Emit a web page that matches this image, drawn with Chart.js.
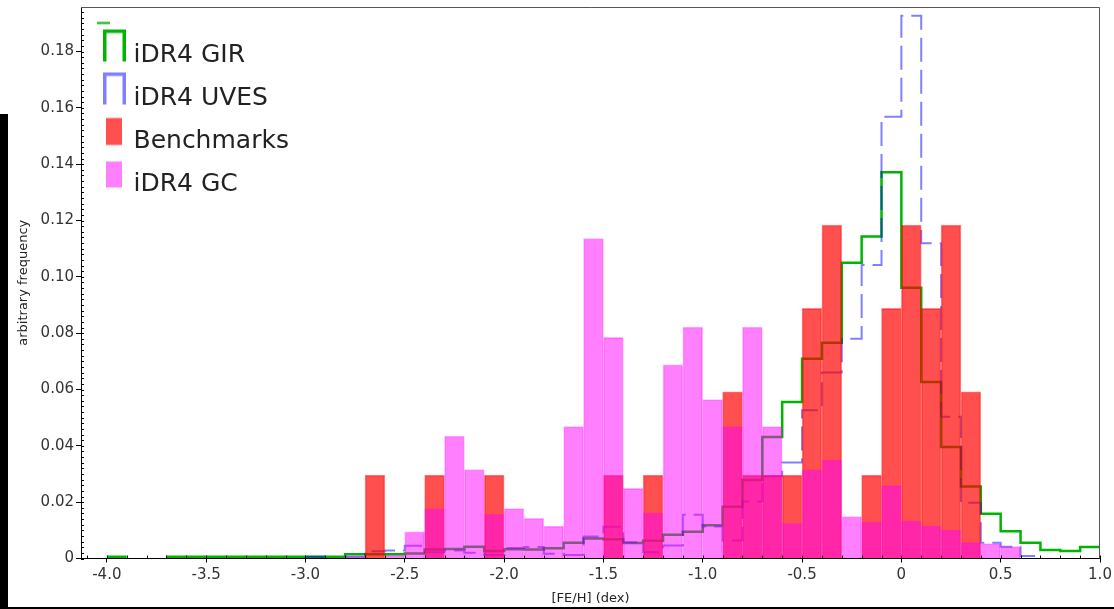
<!DOCTYPE html>
<html>
<head>
<meta charset="utf-8">
<script src="https://cdn.jsdelivr.net/npm/chart.js@4.4.0/dist/chart.umd.min.js"></script>
<style>
  body { margin: 0; background: #fff; }
  #wrap { position: relative; width: 1114px; height: 609px; }
  .edge { position: absolute; background: #000; }
</style>
</head>
<body>
<div id="wrap">
  <canvas id="chartFeH" width="1114" height="609"></canvas>
  <div class="edge" style="left:0;top:114px;width:8px;height:495px"></div>
  <div class="edge" style="left:0;top:607px;width:1114px;height:2px"></div>
</div>
<script>
// left edges of the 0.1 dex bins
const binLeft = [-4.0, -3.9, -3.8, -3.7, -3.6, -3.5, -3.4, -3.3, -3.2, -3.1,
  -3.0, -2.9, -2.8, -2.7, -2.6, -2.5, -2.4, -2.3, -2.2, -2.1,
  -2.0, -1.9, -1.8, -1.7, -1.6, -1.5, -1.4, -1.3, -1.2, -1.1,
  -1.0, -0.9, -0.8, -0.7, -0.6, -0.5, -0.4, -0.3, -0.2, -0.1,
  0.0, 0.1, 0.2, 0.3, 0.4, 0.5, 0.6, 0.7, 0.8, 0.9];
const binWidth = 0.1;

const seriesNames = ["iDR4 GIR", "iDR4 UVES", "Benchmarks", "iDR4 GC"];

const girFreq = [0.0006, null, null, 0.0006, 0.0006, 0.0006, 0.0006, 0.0006, 0.0006, 0.0006,
  0.0006, 0.0006, 0.0015, 0.0015, 0.0015, 0.0018, 0.0032, 0.0034, 0.0042, 0.0027,
  0.0033, 0.0032, 0.0036, 0.0056, 0.0071, 0.0068, 0.0055, 0.0063, 0.0084, 0.0095,
  0.0118, 0.0184, 0.0279, 0.0431, 0.0556, 0.0709, 0.0766, 0.1050, 0.1143, 0.1371,
  0.0961, 0.0627, 0.0396, 0.0256, 0.0159, 0.0097, 0.0056, 0.0030, 0.0027, 0.0041];

const uvesFreq = [null, null, null, null, null, null, null, null, null, null,
  0.0006, null, 0.0006, 0.0026, 0.0028, 0.0045, 0.0022, 0.0028, 0.0020, 0.0012,
  0.0037, 0.0041, 0.0017, 0.0012, 0.0078, 0.0113, 0.0058, 0.0022, 0.0046, 0.0155,
  0.0114, 0.0064, 0.0202, 0.0292, 0.0341, 0.0526, 0.0660, 0.0780, 0.1042, 0.1568,
  0.1927, 0.1119, 0.0503, 0.0198, 0.0056, 0.0042, 0.0009, null, null, null];

const benchFreq = [null, null, null, null, null, null, null, null, null, null,
  null, null, null, 0.0296, null, null, 0.0296, null, null, 0.0296,
  null, null, null, null, null, 0.0296, null, 0.0296, null, null,
  null, 0.0592, 0.0296, 0.0296, 0.0296, 0.0888, 0.1184, null, 0.0296, 0.0888,
  0.1184, 0.0888, 0.1184, 0.0592, null, null, null, null, null, null];

const gcFreq = [null, null, null, null, null, null, null, null, null, null,
  null, null, 0.0008, null, 0.0012, 0.0095, 0.0176, 0.0435, 0.0316, 0.0158,
  0.0177, 0.0143, 0.0115, 0.0468, 0.1136, 0.0785, 0.0249, 0.0162, 0.0688, 0.0822,
  0.0564, 0.0468, 0.0822, 0.0468, 0.0125, 0.0316, 0.0350, 0.0149, 0.0130, 0.0259,
  0.0134, 0.0116, 0.0101, 0.0057, 0.0053, 0.0042, null, null, null, null];

const xTicks = [-4.0, -3.5, -3.0, -2.5, -2.0, -1.5, -1.0, -0.5, 0, 0.5, 1.0];
const yTicks = [0, 0.02, 0.04, 0.06, 0.08, 0.10, 0.12, 0.14, 0.16, 0.18];

const FONT = "DejaVu Sans";
const GREEN = "#00b400";
const BLUE = "rgba(0, 0, 255, 0.5)";
const RED = "rgba(255, 0, 0, 0.69)";
const PINK = "rgba(255, 0, 255, 0.5)";

Chart.defaults.font.family = FONT;

// histogram outline: flat top over each bin, gaps where a bin is empty
const stepPoints = (vals) => {
  const pts = [];
  vals.forEach((v, i) => {
    if (v === null) {
      pts.push({ x: binLeft[i] + binWidth / 2, y: null });
    } else {
      pts.push({ x: binLeft[i], y: v }, { x: binLeft[i] + binWidth, y: v });
    }
  });
  return pts;
};
const barPoints = (vals) => vals.map((v, i) => ({ x: binLeft[i] + binWidth / 2, y: v }));

// legend symbols
const makeIcon = (paint) => {
  const c = document.createElement("canvas");
  c.width = 44;
  c.height = 72;
  const g = c.getContext("2d");
  g.translate(22, 36);
  paint(g);
  return c;
};
const capShape = (g, color) => {
  g.strokeStyle = color;
  g.lineWidth = 3.5;
  g.lineJoin = "miter";
  g.beginPath();
  g.moveTo(-5.25, 6);
  g.lineTo(-5.25, -24.25);
  g.lineTo(14.25, -24.25);
  g.lineTo(14.25, 6);
  g.stroke();
};
const legendIcons = [
  makeIcon((g) => {
    capShape(g, GREEN);
    g.fillStyle = GREEN;
    g.fillRect(-13, -33.5, 13, 2);
  }),
  makeIcon((g) => capShape(g, BLUE)),
  makeIcon((g) => {
    g.fillStyle = RED;
    g.fillRect(-4, -23.5, 16, 27);
  }),
  makeIcon((g) => {
    g.fillStyle = PINK;
    g.fillRect(-4, -23, 16, 26);
  }),
];

// minor ticks, axis lines over the bars, grey frame on top/right
const axisDecor = {
  id: "axisDecor",
  afterDatasetsDraw(chart) {
    const { ctx, chartArea: a, scales } = chart;
    const x = scales.x;
    const y = scales.y;
    ctx.save();
    ctx.strokeStyle = "#000";
    ctx.lineWidth = 1;
    ctx.beginPath();
    for (let k = -41; k <= 10; k++) {
      const px = Math.round(x.getPixelForValue(k / 10)) + 0.5;
      ctx.moveTo(px, a.bottom);
      ctx.lineTo(px, a.bottom - 3);
    }
    for (let k = 0; k * 0.002 <= y.max; k++) {
      const py = Math.round(y.getPixelForValue(k * 0.002)) + 0.5;
      ctx.moveTo(a.left, py);
      ctx.lineTo(a.left + 3, py);
    }
    ctx.moveTo(a.left, a.bottom);
    ctx.lineTo(a.right, a.bottom);
    ctx.stroke();
    ctx.strokeStyle = "#555";
    ctx.beginPath();
    ctx.moveTo(a.left, a.top + 0.5);
    ctx.lineTo(a.right - 0.5, a.top + 0.5);
    ctx.lineTo(a.right - 0.5, a.bottom);
    ctx.stroke();
    ctx.restore();
  },
};

const ctx = document.getElementById("chartFeH").getContext("2d");
const myChart = new Chart(ctx, {
  type: "bar",
  data: {
    datasets: [
      {
        type: "line",
        label: seriesNames[0],
        data: stepPoints(girFreq),
        borderColor: GREEN,
        borderWidth: 2.5,
        pointRadius: 0,
        tension: 0,
        spanGaps: false,
        order: 3,
      },
      {
        type: "line",
        label: seriesNames[1],
        data: stepPoints(uvesFreq),
        borderColor: BLUE,
        borderWidth: 2,
        borderDash: [24, 8],
        pointRadius: 0,
        tension: 0,
        spanGaps: false,
        order: 2,
      },
      {
        label: seriesNames[2],
        data: barPoints(benchFreq),
        backgroundColor: RED,
        borderColor: "rgba(255, 0, 0, 0.45)",
        borderWidth: 1,
        grouped: false,
        barPercentage: 1,
        categoryPercentage: 1,
        order: 1,
      },
      {
        label: seriesNames[3],
        data: barPoints(gcFreq),
        backgroundColor: PINK,
        borderColor: "rgba(255, 0, 255, 0.3)",
        borderWidth: 1,
        grouped: false,
        barPercentage: 1,
        categoryPercentage: 1,
        order: 0,
      },
    ],
  },
  options: {
    responsive: false,
    animation: false,
    layout: { padding: { top: 7, right: 14, left: 0, bottom: 0 } },
    scales: {
      x: {
        type: "linear",
        min: -4.13,
        max: 1.0,
        offset: false,
        afterFit: (s) => {
          s.height = 50.5;
          s.paddingLeft = 0;
          s.paddingRight = 0;
        },
        afterBuildTicks: (s) => {
          s.ticks = xTicks.map((v) => ({ value: v }));
        },
        ticks: {
          autoSkip: false,
          maxRotation: 0,
          padding: 3.5,
          color: "#333",
          font: { size: 15 },
          callback: (v) => (v === 0 ? "0" : v.toFixed(1)),
        },
        grid: { drawOnChartArea: false, offset: false, tickLength: 4, tickColor: "#000" },
        border: { color: "#000", width: 1 },
        title: {
          display: true,
          text: "[FE/H] (dex)",
          color: "#222",
          font: { size: 13 },
          padding: { top: 0, bottom: 3 },
        },
      },
      y: {
        min: 0,
        max: 0.1958,
        afterFit: (s) => {
          s.width = 81;
          s.paddingTop = 0;
          s.paddingBottom = 0;
        },
        afterBuildTicks: (s) => {
          s.ticks = yTicks.map((v) => ({ value: v }));
        },
        ticks: {
          padding: 2,
          color: "#333",
          font: { size: 15 },
          callback: (v) => (v === 0 ? "0" : v.toFixed(2)),
        },
        grid: { drawOnChartArea: false, tickLength: 5, tickColor: "#000" },
        border: { color: "#000", width: 1 },
        title: {
          display: true,
          text: "arbitrary frequency",
          color: "#222",
          font: { size: 13 },
          padding: { top: 16, bottom: 0 },
        },
      },
    },
    plugins: {
      tooltip: { enabled: false },
      legend: {
        position: "chartArea",
        align: "start",
        title: { display: true, text: " ", font: { size: 10 }, padding: { top: 13, bottom: 0 } },
        labels: {
          usePointStyle: true,
          pointStyleWidth: 22,
          padding: 18,
          color: "#222",
          font: { size: 25 },
          sort: (a, b) => a.datasetIndex - b.datasetIndex,
          generateLabels: (chart) =>
            Chart.defaults.plugins.legend.labels
              .generateLabels(chart)
              .map((l) => Object.assign(l, { pointStyle: legendIcons[l.datasetIndex] })),
        },
      },
    },
  },
  plugins: [axisDecor],
});
</script>
</body>
</html>
